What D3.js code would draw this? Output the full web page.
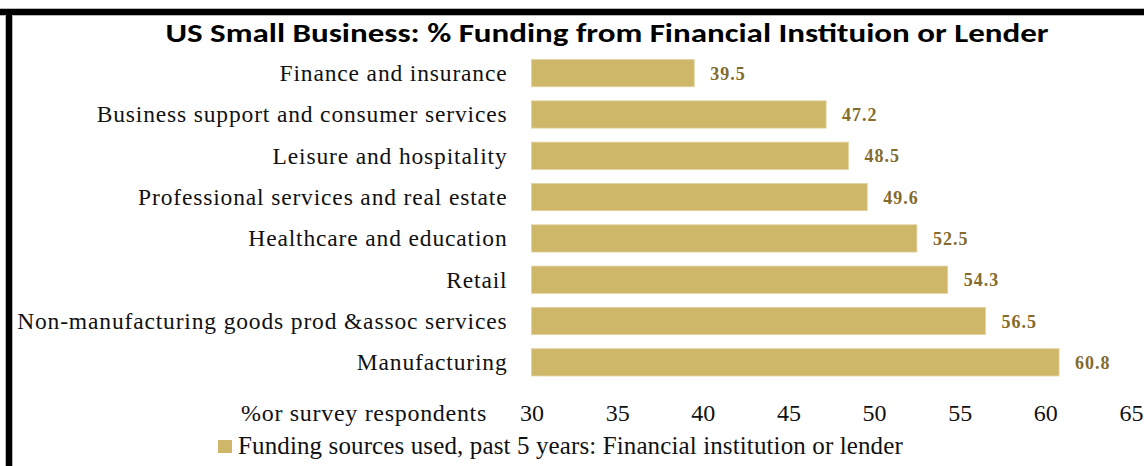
<!DOCTYPE html>
<html>
<head>
<meta charset="utf-8">
<script src="https://cdn.jsdelivr.net/npm/d3@7"></script>
<style>
  html, body { margin: 0; padding: 0; background: #fff; }
  svg { display: block; }
</style>
</head>
<body>
<svg id="chart" width="1144" height="466"></svg>
<script>
// Sectors and share of small businesses that used a financial institution or lender
const categories = [
  "Finance and insurance",
  "Business support and consumer services",
  "Leisure and hospitality",
  "Professional services and real estate",
  "Healthcare and education",
  "Retail",
  "Non-manufacturing goods prod &assoc services",
  "Manufacturing"
];
const values = [39.5, 47.2, 48.5, 49.6, 52.5, 54.3, 56.5, 60.8];
const tickValues = [30, 35, 40, 45, 50, 55, 60, 65];
const titleText = "US Small Business: % Funding from Financial Instituion or Lender";
const axisLabel = "%or survey respondents";
const legendLabel = "Funding sources used, past 5 years: Financial institution or lender";

const W = 1144, H = 466;
const barColor = "#cfb76a";
const valueColor = "#836b2c";
const textColor = "#111";
const serif = "'Liberation Serif', 'DejaVu Serif', serif";

const svg = d3.select("#chart");

// Frame: heavy black rule along the top and left edges
const frame = svg.append("g");
frame.append("rect").attr("x", 0).attr("y", 8).attr("width", W).attr("height", 8).attr("fill", "#b8b8b8");
frame.append("rect").attr("x", 5).attr("y", 8).attr("width", 8).attr("height", H).attr("fill", "#b8b8b8");
frame.append("rect").attr("x", 0).attr("y", 9).attr("width", W).attr("height", 6).attr("fill", "#000");
frame.append("rect").attr("x", 6).attr("y", 9).attr("width", 6).attr("height", H).attr("fill", "#000");

const x = d3.scaleLinear().domain([30, 65]).range([531.5, 1131]);
const y = d3.scaleBand().domain(categories).range([52.5, 383]).paddingInner(0.34).paddingOuter(0.17);

// Title (wide bold sans)
svg.append("g")
  .attr("transform", "translate(607,42) scale(1.27,1)")
  .append("text")
  .attr("text-anchor", "middle")
  .style("font-family", "Carlito, Lato, 'Open Sans', sans-serif")
  .style("font-weight", "700")
  .style("font-size", "26px")
  .attr("fill", "#000")
  .text(titleText);

// Bars
svg.append("g").selectAll("rect")
  .data(values)
  .join("rect")
  .attr("x", x(30))
  .attr("y", (d, i) => y(categories[i]))
  .attr("width", d => x(d) - x(30))
  .attr("height", y.bandwidth())
  .attr("fill", barColor)
  .attr("stroke", "#e2d39f")
  .attr("stroke-width", 0.8);

// Value labels
svg.append("g").selectAll("text")
  .data(values)
  .join("text")
  .attr("x", d => x(d) + 16)
  .attr("y", (d, i) => y(categories[i]) + y.bandwidth() / 2)
  .attr("dy", "0.36em")
  .style("font-family", serif)
  .style("font-weight", "700")
  .style("font-size", "18px")
  .style("letter-spacing", "1px")
  .attr("fill", valueColor)
  .text(d => d.toFixed(1));

// Category axis (labels only)
const yAxis = svg.append("g")
  .attr("transform", `translate(${x(30) - 24},0)`)
  .call(d3.axisLeft(y).tickSize(0).tickPadding(0));
yAxis.select(".domain").remove();
yAxis.selectAll("text")
  .attr("dy", "0.34em")
  .style("font-family", serif)
  .style("font-size", "23.5px")
  .style("letter-spacing", "0.85px")
  .attr("fill", textColor);

// Value axis (tick labels only)
const xAxis = svg.append("g")
  .attr("transform", "translate(0,421)")
  .call(d3.axisBottom(x).tickValues(tickValues).tickSize(0).tickPadding(0).tickFormat(d3.format("d")));
xAxis.select(".domain").remove();
xAxis.selectAll("text")
  .attr("y", 0)
  .attr("dy", 0)
  .style("font-family", serif)
  .style("font-size", "24px")
  .attr("fill", textColor);

svg.append("text")
  .attr("x", 487).attr("y", 421)
  .attr("text-anchor", "end")
  .style("font-family", serif)
  .style("font-size", "24px")
  .style("letter-spacing", "0.7px")
  .attr("fill", textColor)
  .text(axisLabel);

// Legend
svg.append("rect")
  .attr("x", 218).attr("y", 440).attr("width", 14).attr("height", 13)
  .attr("fill", barColor);
svg.append("text")
  .attr("x", 238).attr("y", 454)
  .style("font-family", serif)
  .style("font-size", "25px")
  .style("letter-spacing", "0.12px")
  .attr("fill", textColor)
  .text(legendLabel);
</script>
</body>
</html>
